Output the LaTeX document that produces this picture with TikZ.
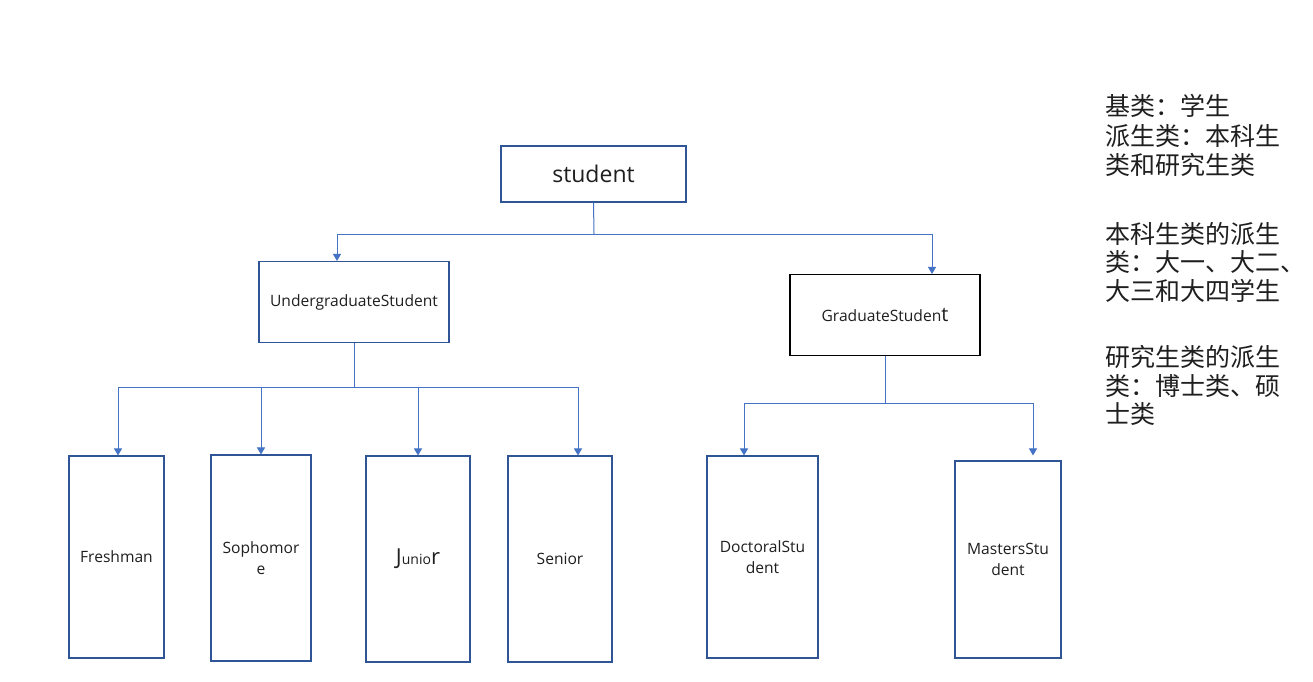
\documentclass[tikz,border=0pt]{standalone}
\usepackage{fontspec}
\setmainfont{Open Sans}
\newfontfamily\cjk{Noto Sans CJK SC}
\usetikzlibrary{arrows.meta}
\definecolor{boxc}{HTML}{2F5597}
\definecolor{linec}{HTML}{4472C4}
\definecolor{textc}{HTML}{1F1F1F}
\begin{document}
\begin{tikzpicture}[x=1pt,y=-1pt,
  box/.style={draw=boxc, line width=1.1pt, rectangle, inner sep=0pt, text=textc, align=center, font=\fontsize{15.6}{21.5}\selectfont},
  conn/.style={draw=linec, line width=1pt},
  arr/.style={conn, -{Triangle[length=7pt,width=8pt]}},
  note/.style={anchor=base west, inner sep=0pt, font=\cjk\fontsize{25}{25}\selectfont, text=textc}]
\useasboundingbox (0,0) rectangle (1313,681);
\fill[white] (0,0) rectangle (1313,681);

% boxes
\node[box, minimum width=185pt, minimum height=56pt, font=\fontsize{23}{23}\selectfont] (st) at (593.5,174) {student};
\node[box, minimum width=190pt, minimum height=81pt] (ug) at (354,302) {UndergraduateStudent};
\node[box, draw=black, minimum width=190pt, minimum height=81pt] (gr) at (885,315) {GraduateStuden{\fontsize{20}{20}\selectfont t}};

\node[box, minimum width=95pt, minimum height=202pt] (fr) at (116.5,557) {Freshman};
\node[box, minimum width=100pt, minimum height=206pt] (so) at (261,558) {Sophomor\\e};
\node[box, minimum width=104pt, minimum height=206pt] (ju) at (418,559) {{\fontsize{22}{22}\selectfont J}{\fontsize{14}{14}\selectfont unio}{\fontsize{22}{22}\selectfont r}};
\node[box, minimum width=104pt, minimum height=206pt] (se) at (560,559) {Senior};
\node[box, minimum width=111pt, minimum height=202pt] (do) at (762.5,557) {DoctoralStu\\dent};
\node[box, minimum width=106pt, minimum height=197pt] (ma) at (1008,559.5) {MastersStu\\dent};

% connectors
\coordinate (j1) at (594,234);
\draw[conn] (st.south) -- (j1);
\draw[arr] (j1) -| ([xshift=-17pt]ug.north);
\draw[arr] (j1) -| ([xshift=47pt]gr.north);

\coordinate (j2) at (354,387);
\draw[conn] (ug.south) -- (j2);
\draw[arr] (j2) -| ([xshift=1.5pt]fr.north);
\draw[arr] (j2) -| (so.north);
\draw[arr] (j2) -| (ju.north);
\draw[arr] (j2) -| ([xshift=18pt]se.north);

\coordinate (j3) at (885,403);
\draw[conn] (gr.south) -- (j3);
\draw[arr] (j3) -| ([xshift=-18.5pt]do.north);
\draw[arr] (j3) -| ([xshift=25pt,yshift=5pt]ma.north);

% notes
\node[note] (t1) at (1105,115.5) {基类：学生};
\node[note] (t2) at (1105,145.5) {派生类：本科生};
\node[note] (t3) at (1105,174.5) {类和研究生类};
\node[note] (t4) at (1105,243.5) {本科生类的派生};
\node[note] (t5) at (1105,271.5) {类：大一、大二、};
\node[note] (t6) at (1105,300.5) {大三和大四学生};
\node[note] (t7) at (1105,366.5) {研究生类的派生};
\node[note] (t8) at (1105,395.5) {类：博士类、硕};
\node[note] (t9) at (1105,423.5) {士类};
\end{tikzpicture}
\end{document}
